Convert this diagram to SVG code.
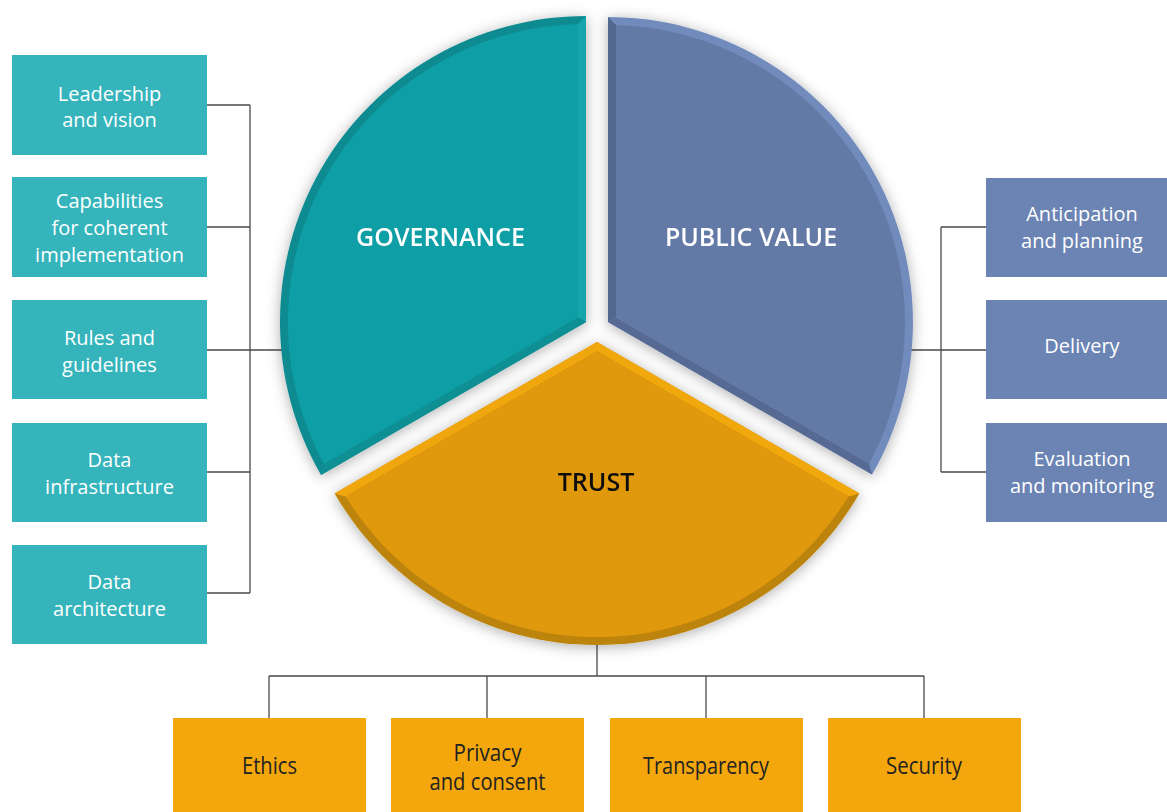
<svg xmlns="http://www.w3.org/2000/svg" width="1167" height="812" viewBox="0 0 1167 812">
<defs>
<filter id="sh" x="-20%" y="-20%" width="140%" height="140%">
<feGaussianBlur in="SourceAlpha" stdDeviation="7"/>
<feOffset dx="0" dy="2" result="b"/>
<feFlood flood-color="#000" flood-opacity="0.32"/>
<feComposite in2="b" operator="in"/>
<feMerge><feMergeNode/><feMergeNode in="SourceGraphic"/></feMerge>
</filter>
<style>
.gbox{fill:#35b5bb}
.pbox{fill:#6b84b4}
.tbox{fill:#f4a70c}
.wt{font-family:"Open Sans","Liberation Sans",sans-serif;font-size:20px;fill:#ffffff;text-anchor:middle}
.bt{font-family:"Open Sans","Liberation Sans",sans-serif;font-size:23px;fill:#222;text-anchor:middle}
.title{font-family:"Open Sans","Liberation Sans",sans-serif;font-size:25px;font-weight:600;text-anchor:middle}
.ln{stroke:#4a4a4a;stroke-width:1.3;fill:none}
</style>
</defs>
<rect width="1167" height="812" fill="#ffffff"/>

<g id="connectors" class="ln">
<path d="M207 105H250M207 227H250M207 350H290M207 472H250M207 593H250M250 105V593"/>
<path d="M905 350H986M941 227H986M941 472H986M941 227V472"/>
<path d="M597 640V676M269 676H924M269 676V718M487 676V718M706 676V718M924 676V718"/>
</g>

<g id="governance" filter="url(#sh)">
<path d="M586 322L586 16A306 306 0 0 0 321 475Z" fill="#0e8b90"/>
<path d="M586 322L586 16L578 24.1L578 317.4Z" fill="#15a5ab"/>
<path d="M586 322L578 317.4L324 464L321 475Z" fill="#0f8f94"/>
<path d="M578 317.4L578 24.1A298 298 0 0 0 324 464Z" fill="#119fa5"/>
<text class="title" x="440.5" y="246" fill="#ffffff">GOVERNANCE</text>
</g>

<g id="public-value" filter="url(#sh)">
<path d="M608 322L608 17A305 305 0 0 1 872.1 474.5Z" fill="#728bbd"/>
<path d="M608 322L608 17L616 25.1L616 317.4Z" fill="#53678f"/>
<path d="M608 322L616 317.4L869.1 463.5L872.1 474.5Z" fill="#566b94"/>
<path d="M616 317.4L616 25.1A297 297 0 0 1 869.1 463.5Z" fill="#647aa6"/>
<text class="title" x="751" y="246" fill="#ffffff">PUBLIC VALUE</text>
</g>

<g id="trust" filter="url(#sh)">
<path d="M597 342L334.6 493.5A303 303 0 0 0 859.4 493.5Z" fill="#bd8408"/>
<path d="M597 342L334.6 493.5L345.6 496.4L597 351.2Z" fill="#efa70d"/>
<path d="M597 342L859.4 493.5L848.4 496.4L597 351.2Z" fill="#f0a80d"/>
<path d="M597 351.2L345.6 496.4A295 295 0 0 0 848.4 496.4Z" fill="#e0990a"/>
<text class="title" x="596" y="491" fill="#111111">TRUST</text>
</g>

<g id="leadership">
<rect class="gbox" x="12" y="55" width="195" height="100"/>
<text class="wt" x="109.5" y="101">Leadership</text>
<text class="wt" x="109.5" y="127">and vision</text>
</g>
<g id="capabilities">
<rect class="gbox" x="12" y="177" width="195" height="100"/>
<text class="wt" x="109.5" y="208">Capabilities</text>
<text class="wt" x="109.5" y="235">for coherent</text>
<text class="wt" x="109.5" y="262">implementation</text>
</g>
<g id="rules">
<rect class="gbox" x="12" y="300" width="195" height="99"/>
<text class="wt" x="109.5" y="345">Rules and</text>
<text class="wt" x="109.5" y="372">guidelines</text>
</g>
<g id="data-infrastructure">
<rect class="gbox" x="12" y="423" width="195" height="99"/>
<text class="wt" x="109.5" y="467">Data</text>
<text class="wt" x="109.5" y="494">infrastructure</text>
</g>
<g id="data-architecture">
<rect class="gbox" x="12" y="545" width="195" height="99"/>
<text class="wt" x="109.5" y="589">Data</text>
<text class="wt" x="109.5" y="616">architecture</text>
</g>

<g id="anticipation">
<rect class="pbox" x="986" y="178" width="195" height="99"/>
<text class="wt" x="1082" y="221">Anticipation</text>
<text class="wt" x="1082" y="248">and planning</text>
</g>
<g id="delivery">
<rect class="pbox" x="986" y="300" width="195" height="99"/>
<text class="wt" x="1082" y="353">Delivery</text>
</g>
<g id="evaluation">
<rect class="pbox" x="986" y="423" width="195" height="99"/>
<text class="wt" x="1082" y="466">Evaluation</text>
<text class="wt" x="1082" y="493">and monitoring</text>
</g>

<g id="ethics">
<rect class="tbox" x="173" y="718" width="193" height="100"/>
<text class="bt" x="269.5" y="774" textLength="55" lengthAdjust="spacingAndGlyphs">Ethics</text>
</g>
<g id="privacy">
<rect class="tbox" x="391" y="718" width="193" height="100"/>
<text class="bt" x="487.5" y="761" textLength="68" lengthAdjust="spacingAndGlyphs">Privacy</text>
<text class="bt" x="487.5" y="790" textLength="116" lengthAdjust="spacingAndGlyphs">and consent</text>
</g>
<g id="transparency">
<rect class="tbox" x="610" y="718" width="193" height="100"/>
<text class="bt" x="706" y="774" textLength="126" lengthAdjust="spacingAndGlyphs">Transparency</text>
</g>
<g id="security">
<rect class="tbox" x="828" y="718" width="193" height="100"/>
<text class="bt" x="924" y="774" textLength="76" lengthAdjust="spacingAndGlyphs">Security</text>
</g>
</svg>
